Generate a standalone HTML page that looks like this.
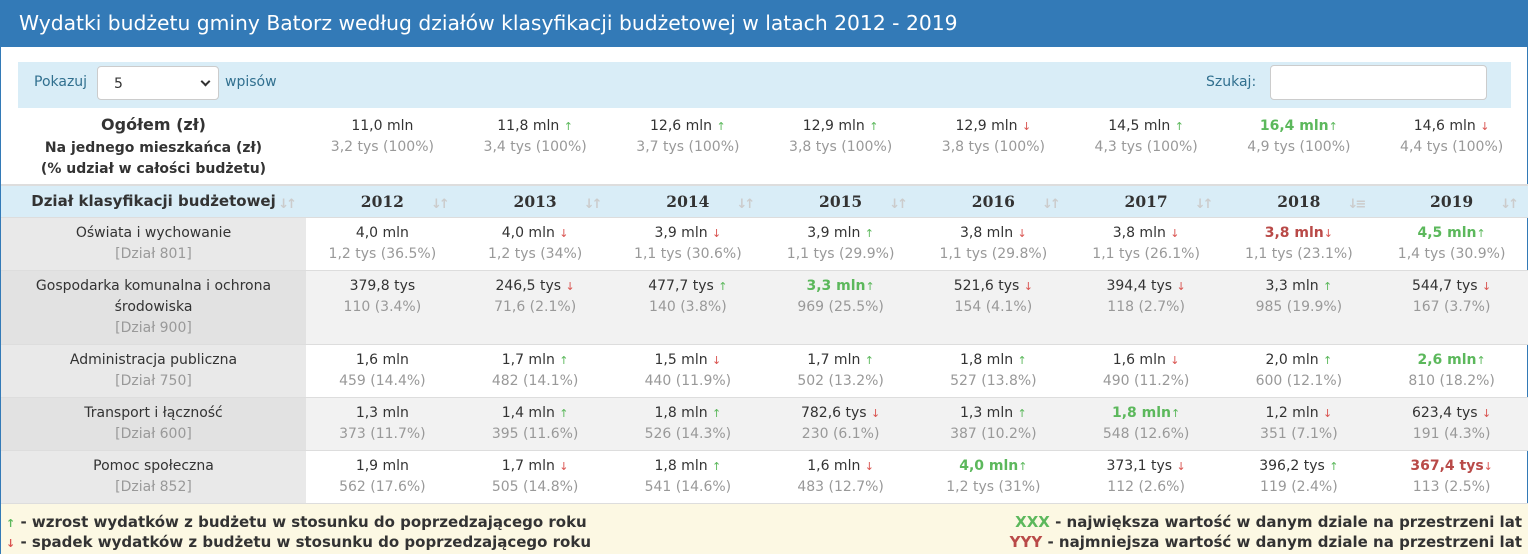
<!DOCTYPE html>
<html><head><meta charset="utf-8">
<style>
*{box-sizing:border-box;margin:0;padding:0}
body{width:1530px;height:554px;overflow:hidden;background:#fff;font-family:"DejaVu Sans","Liberation Sans",sans-serif;font-size:14px;color:#333}
#wrap{position:absolute;left:0;top:0;width:1528px;height:554px;border:1px solid #337ab7;border-top:none}
#title{height:47px;background:#337ab7;color:#fff;font-size:20.3px;line-height:47px;padding-left:18px}
#ctrl{position:absolute;left:17px;top:62px;width:1493px;height:46px;background:#d9edf7;color:#31708f}
#ctrl .l{position:absolute;left:16px;top:12px}
#sel{position:absolute;left:79px;top:4px;width:122px;height:34px;background:#fff;border:1px solid #ccc;border-radius:4px;color:#333;padding:9px 0 0 16px}
#sel:after{content:"";position:absolute;right:9px;top:11px;width:5px;height:5px;border-right:2px solid #333;border-bottom:2px solid #333;transform:rotate(45deg)}
#ctrl .w{position:absolute;left:207px;top:12px}
#ctrl .s{position:absolute;left:1188px;top:12px}
#srch{position:absolute;left:1252px;top:3px;width:217px;height:35px;background:#fff;border:1px solid #ccc;border-radius:4px}
table{position:absolute;left:0;top:108px;border-collapse:collapse;table-layout:fixed;width:1527px}
td,th{text-align:center;line-height:21px}
.tot td{height:77px;vertical-align:top;padding-top:8px}
.tot .lab{font-weight:bold;font-size:14px;line-height:21.5px;padding-top:6px}
.tot .lab b{font-size:16px}
.sub{color:#999}
.hd th{height:32px;background:#d9edf7;border-top:2px solid #ddd;border-bottom:1px solid #ddd;font-family:"DejaVu Serif","Liberation Serif",serif;font-size:15.5px;position:relative}
.hd th.f{font-family:"DejaVu Sans",sans-serif;font-size:15px}
.si{position:absolute;right:12px;top:8px;color:#ccc;font-size:13px;letter-spacing:-3px;font-family:"DejaVu Sans",sans-serif}
.dr td{padding:5px 0;border-bottom:1px solid #ddd;vertical-align:top}
.dr td.c0{background:#e9e9e9}
.dr.odd td{background:#f2f2f2}
.dr.odd td.c0{background:#e2e2e2}
.up{color:#5cb85c;font-size:11px}
.dn{color:#d9534f;font-size:11px}
.mx{color:#5cb85c;font-weight:bold}
.mn{color:#b94a48;font-weight:bold}
#leg{position:absolute;left:0;top:504px;width:1527px;height:50px;background:#fcf8e3;font-weight:bold;font-size:15px}
#leg div{position:absolute;line-height:20px}
</style></head><body>
<div id="wrap">
<div id="title">Wydatki budżetu gminy Batorz według działów klasyfikacji budżetowej w latach 2012 - 2019</div>
<div id="ctrl">
<span class="l">Pokazuj</span>
<div id="sel">5</div>
<span class="w">wpisów</span>
<span class="s">Szukaj:</span>
<div id="srch"></div>
</div>
<table id="tbl">
<colgroup><col style="width:305px"><col span="8" style="width:152.75px"></colgroup>
<tbody id="tb"></tbody>
</table>
<div id="leg">
<div style="left:5px;top:8px"><span class="up">↑</span> - wzrost wydatków z budżetu w stosunku do poprzedzającego roku</div>
<div style="left:5px;top:28px"><span class="dn">↓</span> - spadek wydatków z budżetu w stosunku do poprzedzającego roku</div>
<div style="right:6px;top:8px"><span style="color:#5cb85c">XXX</span> - największa wartość w danym dziale na przestrzeni lat</div>
<div style="right:6px;top:28px"><span style="color:#b94a48">YYY</span> - najmniejsza wartość w danym dziale na przestrzeni lat</div>
</div>
</div>
<script>
const years=["2012","2013","2014","2015","2016","2017","2018","2019"];
const totals=["11,0 mln","11,8 mln","12,6 mln","12,9 mln","12,9 mln","14,5 mln","16,4 mln","14,6 mln"];
const totalsSub=["3,2 tys (100%)","3,4 tys (100%)","3,7 tys (100%)","3,8 tys (100%)","3,8 tys (100%)","4,3 tys (100%)","4,9 tys (100%)","4,4 tys (100%)"];
const totalsDir=["","u","u","u","d","u","u","d"];
const totalsMark=["","","","","","","x",""];
const sections=[["Oświata i wychowanie","801"],["Gospodarka komunalna i ochrona środowiska","900"],["Administracja publiczna","750"],["Transport i łączność","600"],["Pomoc społeczna","852"]];
const vals=[
["4,0 mln","4,0 mln","3,9 mln","3,9 mln","3,8 mln","3,8 mln","3,8 mln","4,5 mln"],
["379,8 tys","246,5 tys","477,7 tys","3,3 mln","521,6 tys","394,4 tys","3,3 mln","544,7 tys"],
["1,6 mln","1,7 mln","1,5 mln","1,7 mln","1,8 mln","1,6 mln","2,0 mln","2,6 mln"],
["1,3 mln","1,4 mln","1,8 mln","782,6 tys","1,3 mln","1,8 mln","1,2 mln","623,4 tys"],
["1,9 mln","1,7 mln","1,8 mln","1,6 mln","4,0 mln","373,1 tys","396,2 tys","367,4 tys"]];
const subs=[
["1,2 tys (36.5%)","1,2 tys (34%)","1,1 tys (30.6%)","1,1 tys (29.9%)","1,1 tys (29.8%)","1,1 tys (26.1%)","1,1 tys (23.1%)","1,4 tys (30.9%)"],
["110 (3.4%)","71,6 (2.1%)","140 (3.8%)","969 (25.5%)","154 (4.1%)","118 (2.7%)","985 (19.9%)","167 (3.7%)"],
["459 (14.4%)","482 (14.1%)","440 (11.9%)","502 (13.2%)","527 (13.8%)","490 (11.2%)","600 (12.1%)","810 (18.2%)"],
["373 (11.7%)","395 (11.6%)","526 (14.3%)","230 (6.1%)","387 (10.2%)","548 (12.6%)","351 (7.1%)","191 (4.3%)"],
["562 (17.6%)","505 (14.8%)","541 (14.6%)","483 (12.7%)","1,2 tys (31%)","112 (2.6%)","119 (2.4%)","113 (2.5%)"]];
const dirs=[
["","d","d","u","d","d","d","u"],
["","d","u","u","d","d","u","d"],
["","u","d","u","u","d","u","u"],
["","u","u","d","u","u","d","d"],
["","d","u","d","u","d","u","d"]];
const marks=[
["","","","","","","n","x"],
["","","","x","","","",""],
["","","","","","","","x"],
["","","","","","x","",""],
["","","","","x","","","n"]];
function cell(v,s,d,m){
  const cls=m==="x"?"mx":m==="n"?"mn":"";
  const sp=m?"":" ";
  const ar=d==="u"?sp+'<span class="up">↑</span>':d==="d"?sp+'<span class="dn">↓</span>':"";
  return '<span class="'+cls+'">'+v+'</span>'+ar+'<br><span class="sub">'+s+'</span>';
}
const tb=document.getElementById('tb');
let tr=document.createElement('tr');tr.className='tot';


let h='<td class="lab"><b>Ogółem (zł)</b><br>Na jednego mieszkańca (zł)<br>(% udział w całości budżetu)</td>';
for(let i=0;i<years.length;i++)h+='<td>'+cell(totals[i],totalsSub[i],totalsDir[i],totalsMark[i])+'</td>';
tr.innerHTML=h;tb.appendChild(tr);
tr=document.createElement('tr');tr.className='hd';


h='<th class="f">Dział klasyfikacji budżetowej <span class="si">↓↑</span></th>';
for(let i=0;i<years.length;i++)h+='<th>'+years[i]+'<span class="si">'+(i===6?'↓≡':'↓↑')+'</span></th>';
tr.innerHTML=h;tb.appendChild(tr);
[...tr.children].forEach((th,i)=>{
  
  
});
sections.forEach((s,r)=>{
  const row=document.createElement('tr');row.className='dr'+(r%2?' odd':'');
  
  
  let x='<td class="c0">'+(r===1?'Gospodarka komunalna i ochrona<br>środowiska':s[0])+'<br><span class="sub">[Dział '+s[1]+']</span></td>';
  for(let i=0;i<years.length;i++)x+='<td>'+cell(vals[r][i],subs[r][i],dirs[r][i],marks[r][i])+'</td>';
  row.innerHTML=x;tb.appendChild(row);
});
</script>
</body></html>
